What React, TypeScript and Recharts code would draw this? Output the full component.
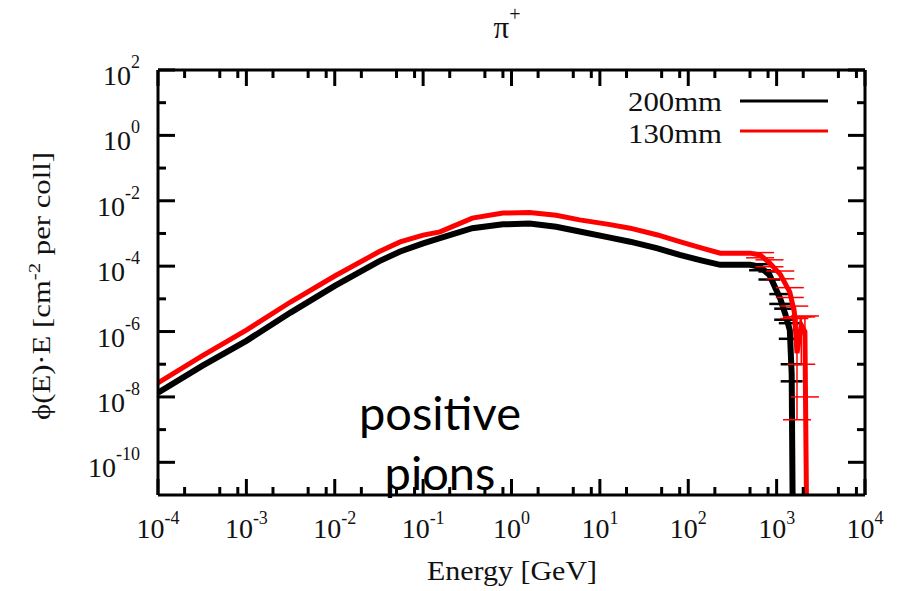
import { LineChart, Line, XAxis, YAxis, ErrorBar, Legend } from 'recharts';

// pi+ flux, 200mm and 130mm (E in GeV)
const black200 = [
  { e: 1e-4, v: 1.35e-8 },
  { e: 3.16e-4, v: 8.9e-8 },
  { e: 1e-3, v: 5.2e-7 },
  { e: 3.16e-3, v: 3.8e-6 },
  { e: 1e-2, v: 2.5e-5 },
  { e: 3.16e-2, v: 1.4e-4 },
  { e: 5.5e-2, v: 2.8e-4 },
  { e: 0.1, v: 5e-4 },
  { e: 0.155, v: 7.2e-4 },
  { e: 0.36, v: 1.45e-3 },
  { e: 0.8, v: 1.9e-3 },
  { e: 1.6, v: 2.0e-3 },
  { e: 3.2, v: 1.6e-3 },
  { e: 5.9, v: 1.15e-3 },
  { e: 12.6, v: 7.6e-4 },
  { e: 22, v: 5.6e-4 },
  { e: 45, v: 3.5e-4 },
  { e: 80, v: 2.2e-4 },
  { e: 140, v: 1.5e-4 },
  { e: 230, v: 1.1e-4 },
  { e: 500, v: 1.1e-4 },
  { e: 650, v: 9.5e-5, err: [2e-5, 2e-5] },
  { e: 830, v: 5.4e-5, err: [1.5e-5, 1.5e-5] },
  { e: 1100, v: 1e-5, err: [3e-6, 4e-6] },
  { e: 1250, v: 3.5e-6, err: [1.2e-6, 1.5e-6] },
  { e: 1410, v: 1.1e-6, err: [5e-7, 7e-7] },
  { e: 1480, v: 5e-8, err: [2e-8, 5e-8] },
  { e: 1525, v: 1e-12 },
];

const red130 = [
  { e: 1e-4, v: 2.7e-8 },
  { e: 3.16e-4, v: 1.8e-7 },
  { e: 1e-3, v: 1.1e-6 },
  { e: 3.16e-3, v: 8e-6 },
  { e: 1e-2, v: 5e-5 },
  { e: 3.16e-2, v: 2.75e-4 },
  { e: 5.5e-2, v: 5.5e-4 },
  { e: 0.1, v: 8.9e-4 },
  { e: 0.155, v: 1.12e-3 },
  { e: 0.36, v: 2.95e-3 },
  { e: 0.8, v: 4.2e-3 },
  { e: 1.6, v: 4.4e-3 },
  { e: 3.2, v: 3.6e-3 },
  { e: 5.9, v: 2.6e-3 },
  { e: 12.6, v: 1.9e-3 },
  { e: 22, v: 1.45e-3 },
  { e: 45, v: 9e-4 },
  { e: 80, v: 5.6e-4 },
  { e: 140, v: 3.6e-4 },
  { e: 230, v: 2.5e-4 },
  { e: 500, v: 2.5e-4 },
  { e: 650, v: 2.2e-4, err: [4e-5, 4e-5] },
  { e: 830, v: 1.26e-4, err: [3e-5, 3e-5] },
  { e: 1100, v: 5.6e-5, err: [1.5e-5, 1.5e-5] },
  { e: 1410, v: 1.6e-5, err: [5e-6, 6e-6] },
  { e: 1585, v: 4e-6, err: [1.5e-6, 2e-6] },
  { e: 1700, v: 2.2e-7, err: [2.18e-7, 2.6e-6] },
  { e: 1900, v: 1.6e-6, err: [1.5e-6, 1.2e-6] },
  { e: 2090, v: 1e-6, err: [9.9e-7, 2e-6] },
  { e: 2190, v: 1e-12 },
];

const xMajor = [1e-4, 1e-3, 1e-2, 1e-1, 1, 10, 100, 1000, 10000];
const xMinorSteps = [2, 5, 8];
const yMajor = [1e-10, 1e-8, 1e-6, 1e-4, 1e-2, 1, 100];
const yMinor = [1e-9, 1e-7, 1e-5, 1e-3, 1e-1, 10];

const xTicks = [...xMajor, ...xMajor.slice(0, -1).flatMap((d) => xMinorSteps.map((m) => d * m))];
const yTicks = [...yMajor, ...yMinor];

const serif = '"Liberation Serif", "Times New Roman", serif';
const isIn = (arr: number[], v: number) => arr.some((m) => Math.abs(m - v) / m < 1e-9);
const exp = (v: number) => String(Math.round(Math.log10(v)));

const BottomTick = ({ x, y, payload }: any) => {
  const major = isIn(xMajor, payload.value);
  return (
    <g>
      <line x1={x} x2={x} y1={y} y2={y - (major ? 16 : 8)} stroke="#000" strokeWidth={3} />
      {major && (
        <text x={x} y={y + 43} textAnchor="middle" fontFamily={serif} fontSize={28} fill="#111">
          10<tspan dy={-14} fontSize={18}>{exp(payload.value)}</tspan>
        </text>
      )}
    </g>
  );
};

const TopTick = ({ x, y, payload }: any) => {
  const major = isIn(xMajor, payload.value);
  return <line x1={x} x2={x} y1={y} y2={y + (major ? 16 : 8)} stroke="#000" strokeWidth={3} />;
};

const LeftTick = ({ x, y, payload }: any) => {
  const major = isIn(yMajor, payload.value);
  return (
    <g>
      <line x1={x} x2={x + (major ? 17 : 8)} y1={y} y2={y} stroke="#000" strokeWidth={3} />
      {major && (
        <text x={x - 18} y={y + 15} textAnchor="end" fontFamily={serif} fontSize={28} fill="#111">
          10<tspan dy={-17} fontSize={18}>{exp(payload.value)}</tspan>
        </text>
      )}
    </g>
  );
};

const RightTick = ({ x, y, payload }: any) => {
  const major = isIn(yMajor, payload.value);
  return <line x1={x} x2={x - (major ? 17 : 8)} y1={y} y2={y} stroke="#000" strokeWidth={3} />;
};

const LegendBox = () => (
  <svg width={240} height={70}>
    <text x={122} y={31} textAnchor="end" fontFamily={serif} fontSize={28} fill="#111" textLength={94} lengthAdjust="spacingAndGlyphs">200mm</text>
    <line x1={140} x2={228} y1={21} y2={21} stroke="#000" strokeWidth={3} />
    <text x={122} y={63} textAnchor="end" fontFamily={serif} fontSize={28} fill="#111" textLength={94} lengthAdjust="spacingAndGlyphs">130mm</text>
    <line x1={140} x2={228} y1={51} y2={51} stroke="#f00" strokeWidth={3} />
  </svg>
);

export default function App() {
  return (
    <div style={{ position: 'absolute', left: 0, top: 0, width: 901, height: 591, background: '#fff' }}>
      <LineChart width={901} height={591} margin={{ top: 69, right: 35, bottom: 0, left: 0 }}>
        <XAxis
          xAxisId="b"
          dataKey="e"
          type="number"
          scale="log"
          domain={[1e-4, 1e4]}
          allowDataOverflow
          ticks={xTicks}
          interval={0}
          height={96}
          tickSize={0}
          tickMargin={0}
          tickLine={false}
          axisLine={{ stroke: '#000', strokeWidth: 3 }}
          tick={BottomTick}
        />
        <XAxis
          xAxisId="t"
          orientation="top"
          dataKey="e"
          type="number"
          scale="log"
          domain={[1e-4, 1e4]}
          allowDataOverflow
          ticks={xTicks}
          interval={0}
          height={1}
          tickSize={0}
          tickMargin={0}
          tickLine={false}
          axisLine={{ stroke: '#000', strokeWidth: 3 }}
          tick={TopTick}
        />
        <YAxis
          yAxisId="l"
          type="number"
          scale="log"
          domain={[1e-11, 100]}
          allowDataOverflow
          ticks={yTicks}
          interval={0}
          width={158}
          tickSize={0}
          tickMargin={0}
          tickLine={false}
          axisLine={{ stroke: '#000', strokeWidth: 3 }}
          tick={LeftTick}
        />
        <YAxis
          yAxisId="r"
          orientation="right"
          type="number"
          scale="log"
          domain={[1e-11, 100]}
          allowDataOverflow
          ticks={yTicks}
          interval={0}
          width={1}
          tickSize={0}
          tickMargin={0}
          tickLine={false}
          axisLine={{ stroke: '#000', strokeWidth: 3 }}
          tick={RightTick}
        />
        <Legend
          layout="horizontal"
          verticalAlign="middle"
          align="center"
          wrapperStyle={{ left: 600, top: 80, width: 240, height: 70 }}
          content={LegendBox}
        />
        {/* invisible series so the mirrored top/right axes get drawn */}
        <Line
          xAxisId="t"
          yAxisId="r"
          data={black200}
          dataKey="v"
          stroke="none"
          strokeWidth={0}
          dot={false}
          activeDot={false}
          legendType="none"
          isAnimationActive={false}
        />
        <Line
          xAxisId="b"
          yAxisId="l"
          data={black200}
          dataKey="v"
          name="200mm"
          type="linear"
          stroke="#000"
          strokeWidth={6}
          dot={false}
          isAnimationActive={false}
        >
          <ErrorBar dataKey="err" direction="y" width={11} stroke="#000" strokeWidth={2.5} />
        </Line>
        <Line
          xAxisId="b"
          yAxisId="l"
          data={red130}
          dataKey="v"
          name="130mm"
          type="linear"
          stroke="#f00"
          strokeWidth={5}
          dot={false}
          isAnimationActive={false}
        >
          <ErrorBar dataKey="err" direction="y" width={14} stroke="#f00" strokeWidth={1.5} />
        </Line>
      </LineChart>
      <svg
        width={901}
        height={591}
        style={{ position: 'absolute', left: 0, top: 0, pointerEvents: 'none' }}
      >
        <text x={507} y={38} textAnchor="middle" fontFamily={serif} fontSize={31} fill="#111">
          π<tspan dy={-17} fontSize={20}>+</tspan>
        </text>
        <text
          x={512}
          y={580}
          textAnchor="middle"
          fontFamily={serif}
          fontSize={27}
          fill="#111"
          textLength={170}
          lengthAdjust="spacingAndGlyphs"
        >
          Energy [GeV]
        </text>
        <text
          transform="translate(50 286) rotate(-90)"
          textAnchor="middle"
          fontFamily={serif}
          fontSize={25}
          fill="#111"
          textLength={268}
          lengthAdjust="spacingAndGlyphs"
        >
          ϕ(E)·E [cm<tspan dy={-10} fontSize={17}>-2</tspan><tspan dy={10}> per coll]</tspan>
        </text>
        <text x={440} y={430} textAnchor="middle" fontFamily="Lato, sans-serif" fontSize={47} fill="#000">
          positive
        </text>
        <text x={440} y={490} textAnchor="middle" fontFamily="Lato, sans-serif" fontSize={47} fill="#000">
          pions
        </text>
      </svg>
    </div>
  );
}
